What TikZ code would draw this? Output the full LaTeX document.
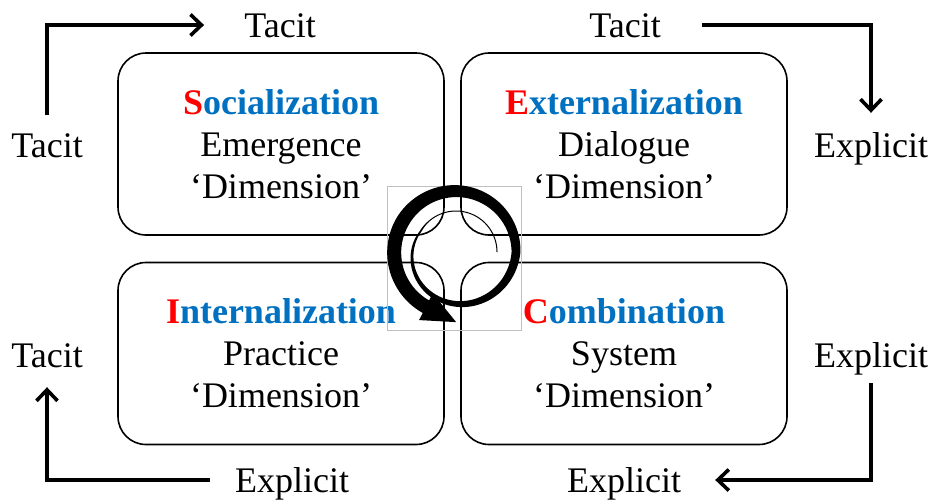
\documentclass[tikz,border=0pt]{standalone}
\usepackage{fontspec}
\setmainfont{Liberation Serif}
\usetikzlibrary{arrows.meta}
\definecolor{capred}{RGB}{255,0,0}
\definecolor{capblue}{RGB}{0,112,192}
\newcommand\qtitle[2]{\textbf{\textcolor{capred}{#1}\textcolor{capblue}{#2}}}

\begin{document}
\begin{tikzpicture}[x=1pt,y=-1pt,
  quad/.style={draw, line width=1.6pt, rounded corners=28pt,
    minimum width=326pt, minimum height=182pt, inner sep=0pt,
    align=center, font=\fontsize{36}{42}\selectfont},
  lbl/.style={inner sep=0pt, text height=24pt, text depth=0pt, anchor=base,
    font=\fontsize{36}{42}\selectfont},
  flow/.style={line width=3.6pt, -{Straight Barb[length=11pt,width=21pt]}},
  declare function={
    sr(\t)=41+19*min(1,max(0,(\t-150)/210))+0.01*max(0,\t-360);
    sw(\t)=1+13*min(1,max(0,(\t-130)/380));
  }
]
\useasboundingbox (0,0) rectangle (932,499);

% the four quadrants
\node[quad] (soc) at (281,144)   {\qtitle{S}{ocialization}\\Emergence\\‘Dimension’};
\node[quad] (ext) at (624,144)   {\qtitle{E}{xternalization}\\Dialogue\\‘Dimension’};
\node[quad] (int) at (281,353.5) {\qtitle{I}{nternalization}\\Practice\\‘Dimension’};
\node[quad] (com) at (624,353.5) {\qtitle{C}{ombination}\\System\\‘Dimension’};

% knowledge-type labels
\node[lbl] (tacL)  at (47,157)  {Tacit};
\node[lbl] (tacT)  at (280,37)  {Tacit};
\node[lbl] (tacTR) at (625,37)  {Tacit};
\node[lbl] (expR)  at (871,157) {Explicit};
\node[lbl] (expR2) at (871,367) {Explicit};
\node[lbl] (tacL2) at (47,367)  {Tacit};
\node[lbl] (expB1) at (292,492) {Explicit};
\node[lbl] (expB2) at (624,492) {Explicit};

% conversion arrows
\draw[flow, shorten <=18pt, shorten >=40pt] (tacL.north) |- (tacT.west);
\draw[flow, shorten <=41pt, shorten >=20pt] (tacTR.east) -| (expR.north);
\draw[flow, shorten <=16pt, shorten >=34pt] (expR2.south) |- (expB2.east);
\draw[flow, shorten <=25pt, shorten >=20pt] (expB1.west) -| (tacL2.south);

% frame of the cycle icon
\draw[black!25, line width=0.7pt] (387,186) rectangle (521,330);

% spiral cycle arrow
\begin{scope}[shift={(456,252)}]
  \fill plot[domain=0:603, samples=300] ({-\x}:{sr(\x)+sw(\x)/2})
     -- plot[domain=603:0, samples=300] ({-\x}:{sr(\x)-sw(\x)/2}) -- cycle;
  \begin{scope}[shift={(-603:62.4)}, rotate=693]
    \fill (-2,-15) -- (32,0) -- (-2,15) -- cycle;
  \end{scope}
\end{scope}
\end{tikzpicture}
\end{document}
